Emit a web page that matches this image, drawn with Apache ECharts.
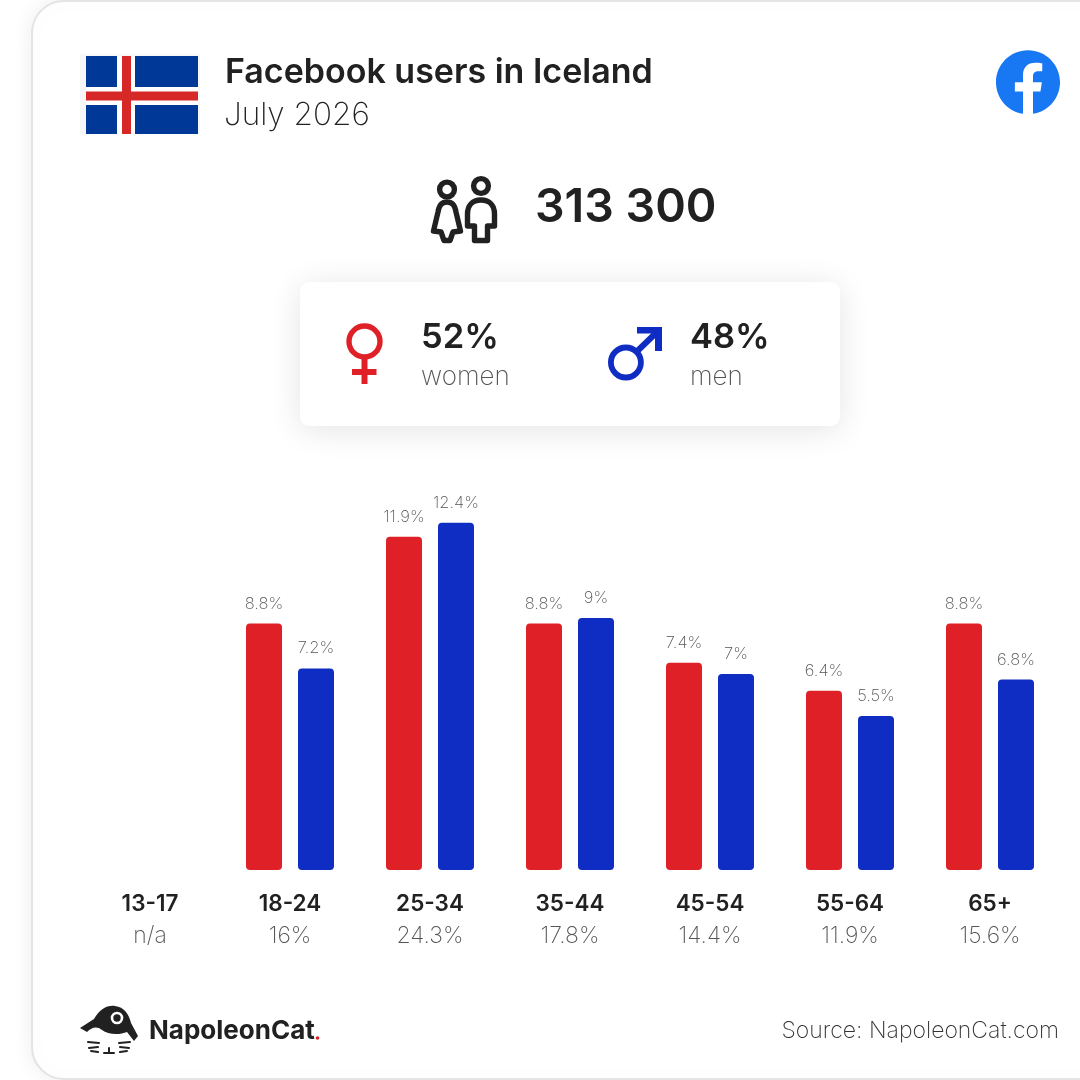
<!DOCTYPE html>
<html><head><meta charset="utf-8">
<style>html,body{margin:0;padding:0;background:#fff}#c{width:1080px;height:1080px}</style>
<script src="https://cdn.jsdelivr.net/npm/echarts@6/dist/echarts.min.js"></script>
</head><body><div id="c"></div>
<script>
const ageGroups = ['13-17','18-24','25-34','35-44','45-54','55-64','65+'];
const ageTotals = ['n/a','16%','24.3%','17.8%','14.4%','11.9%','15.6%'];
const women = [null,8.8,11.9,8.8,7.4,6.4,8.8];
const men = [null,7.2,12.4,9,7,5.5,6.8];
const RED='#df2027', BLUE='#0f2dc2', INK='#212121', GREY='#777777';
const F='Inter';
let shapeN=0;
function pathType(d){
  const name='deco'+(shapeN++);
  echarts.graphic.registerShape(name,echarts.graphic.extendPath(d,{}));
  return name;
}
function txt(text,x,y,size,weight,fill,align){
  return {type:'text',x:x,y:y,z:5,style:{text:text,fontFamily:F,fontSize:size,fontWeight:weight,fill:fill,align:align||'left',verticalAlign:'middle'}};
}
function rect(x,y,w,h,fill){
  return {type:'rect',z:3,shape:{x:x,y:y,width:w,height:h},style:{fill:fill}};
}
function stroke(d,col,lw){
  return {type:pathType(d),z:3,style:{fill:'none',stroke:col,lineWidth:lw,lineJoin:'round',lineCap:'round'}};
}
function solid(d,col,extra){
  return Object.assign({type:pathType(d),z:3,style:{fill:col}},extra||{});
}
function ring(cx,cy,r,col,lw){
  return {type:'circle',z:3,shape:{cx:cx,cy:cy,r:r},style:{fill:'#fff',stroke:col,lineWidth:lw}};
}
const decor=[
  {type:'rect',z:-2,shape:{x:32,y:1,width:1200,height:1078,r:32},style:{fill:'#fff',stroke:'#e4e4e4',lineWidth:2,shadowBlur:22,shadowColor:'rgba(0,0,0,0.07)'}},
  rect(80,54,120,80,'#f7f7f7'),
  rect(86,56,112,78,'#003897'),
  rect(117,56,18,78,'#fff'), rect(86,87,112,18,'#fff'),
  rect(122,56,9,78,'#d72828'), rect(86,91.5,112,9,'#d72828'),
  txt('Facebook users in Iceland',225,73,34,600,INK),
  txt('July 2026',224,116,31.5,200,'#222'),
  {type:'circle',z:3,shape:{cx:1028,cy:82,r:26},style:{fill:'#fff'}},
  solid('M24 12.073c0-6.627-5.373-12-12-12s-12 5.373-12 12c0 5.99 4.388 10.954 10.125 11.854v-8.385H7.078v-3.47h3.047V9.43c0-3.007 1.792-4.669 4.533-4.669 1.312 0 2.686.235 2.686.235v2.953H15.83c-1.491 0-1.956.925-1.956 1.874v2.25h3.328l-.532 3.47h-2.796v8.385C19.612 23.027 24 18.062 24 12.073z','#1877f2',{x:996,y:50,scaleX:64/24,scaleY:64/24,z:4}),
  ring(447,189.5,7.4,INK,5.4), ring(481,186,7.4,INK,5.4),
  stroke('M447 202 C441 202 439 206 438 212 L433.5 231 L441 232 L444 240.5 L450 240.5 L453 232 L460.5 231 L456 212 C455 206 453 202 447 202 Z',INK,5.4),
  stroke('M481 200 C472 200 467.5 206 467.5 214 L467.5 226 L474.5 226 L474.5 240.5 L487.5 240.5 L487.5 226 L494.5 226 L494.5 214 C494.5 206 490 200 481 200 Z',INK,5.4),
  txt('313 300',535,208,46.5,600,INK),
  {type:'rect',z:1,shape:{x:300,y:282,width:540,height:144,r:9},style:{fill:'#fff',shadowBlur:32,shadowOffsetY:4,shadowColor:'rgba(0,0,0,0.11)'}},
  rect(361.5,358,6,26,RED), rect(352,369,24.5,6,RED),
  ring(364.5,341.5,15.5,RED,5.4),
  {type:'line',z:3,shape:{x1:626,y1:362,x2:657,y2:332},style:{stroke:BLUE,lineWidth:6}},
  rect(637,327,25,6.5,BLUE), rect(655,327,7,24,BLUE),
  ring(625.9,362.5,15,BLUE,5.8),
  txt('52%',421,338,34.5,600,INK),
  txt('women',421,377,26,200,'#555'),
  txt('48%',690,338,34.5,600,INK),
  txt('men',690,377,26,200,'#555'),
  solid('M80 1028 L94 1019 C100 1009 107 1005 115 1006 C124 1007 129 1014 131 1023 L138 1036 L134 1041 L127 1032 C120 1035 108 1035 102 1030 C97 1026 92 1027 87 1032 Z',INK),
  {type:'circle',z:4,shape:{cx:117,cy:1018,r:5},style:{fill:INK,stroke:'#fff',lineWidth:2.6}},
  stroke('M88 1042 L99 1043 M89 1048 L98 1047 M91 1051 L98 1052 M119 1043 L130 1042 M120 1047 L129 1048 M120 1052 L127 1051 M104 1053 L114 1053 M109 1048 L109 1053',INK,2),
  txt('NapoleonCat',149,1031,26,700,INK),
  {type:'circle',z:4,shape:{cx:317.5,cy:1038,r:1.8},style:{fill:RED}},
  txt('Source: NapoleonCat.com',1059,1031,23,200,'#333','right')
];
function barSeries(name,data,color){
  return {name:name,type:'bar',data:data,barWidth:36,barGap:'44.4%',
    itemStyle:{color:color,borderRadius:4},
    label:{show:true,position:'top',distance:11.5,fontFamily:F,fontSize:16.5,fontWeight:200,color:'#555',
      formatter:p=>p.value==null?'':p.value+'%'}};
}
const chart=echarts.init(document.getElementById('c'));
chart.setOption({
  animation:false,backgroundColor:'#fff',
  grid:{left:80,right:20,top:478,bottom:210},
  xAxis:{type:'category',data:ageGroups,axisLine:{show:false},axisTick:{show:false},
    axisLabel:{interval:0,margin:18,
      formatter:(v,i)=>'{a|'+v+'}\n{b|'+ageTotals[i]+'}',
      rich:{a:{fontFamily:F,fontSize:22.5,fontWeight:600,color:INK,lineHeight:32},
            b:{fontFamily:F,fontSize:23,fontWeight:200,color:'#555',lineHeight:32}}}},
  yAxis:{type:'value',min:0,max:14,show:false,splitLine:{show:false}},
  series:[barSeries('Women',women,RED),barSeries('Men',men,BLUE)],
  graphic:{elements:decor}
});
</script></body></html>
